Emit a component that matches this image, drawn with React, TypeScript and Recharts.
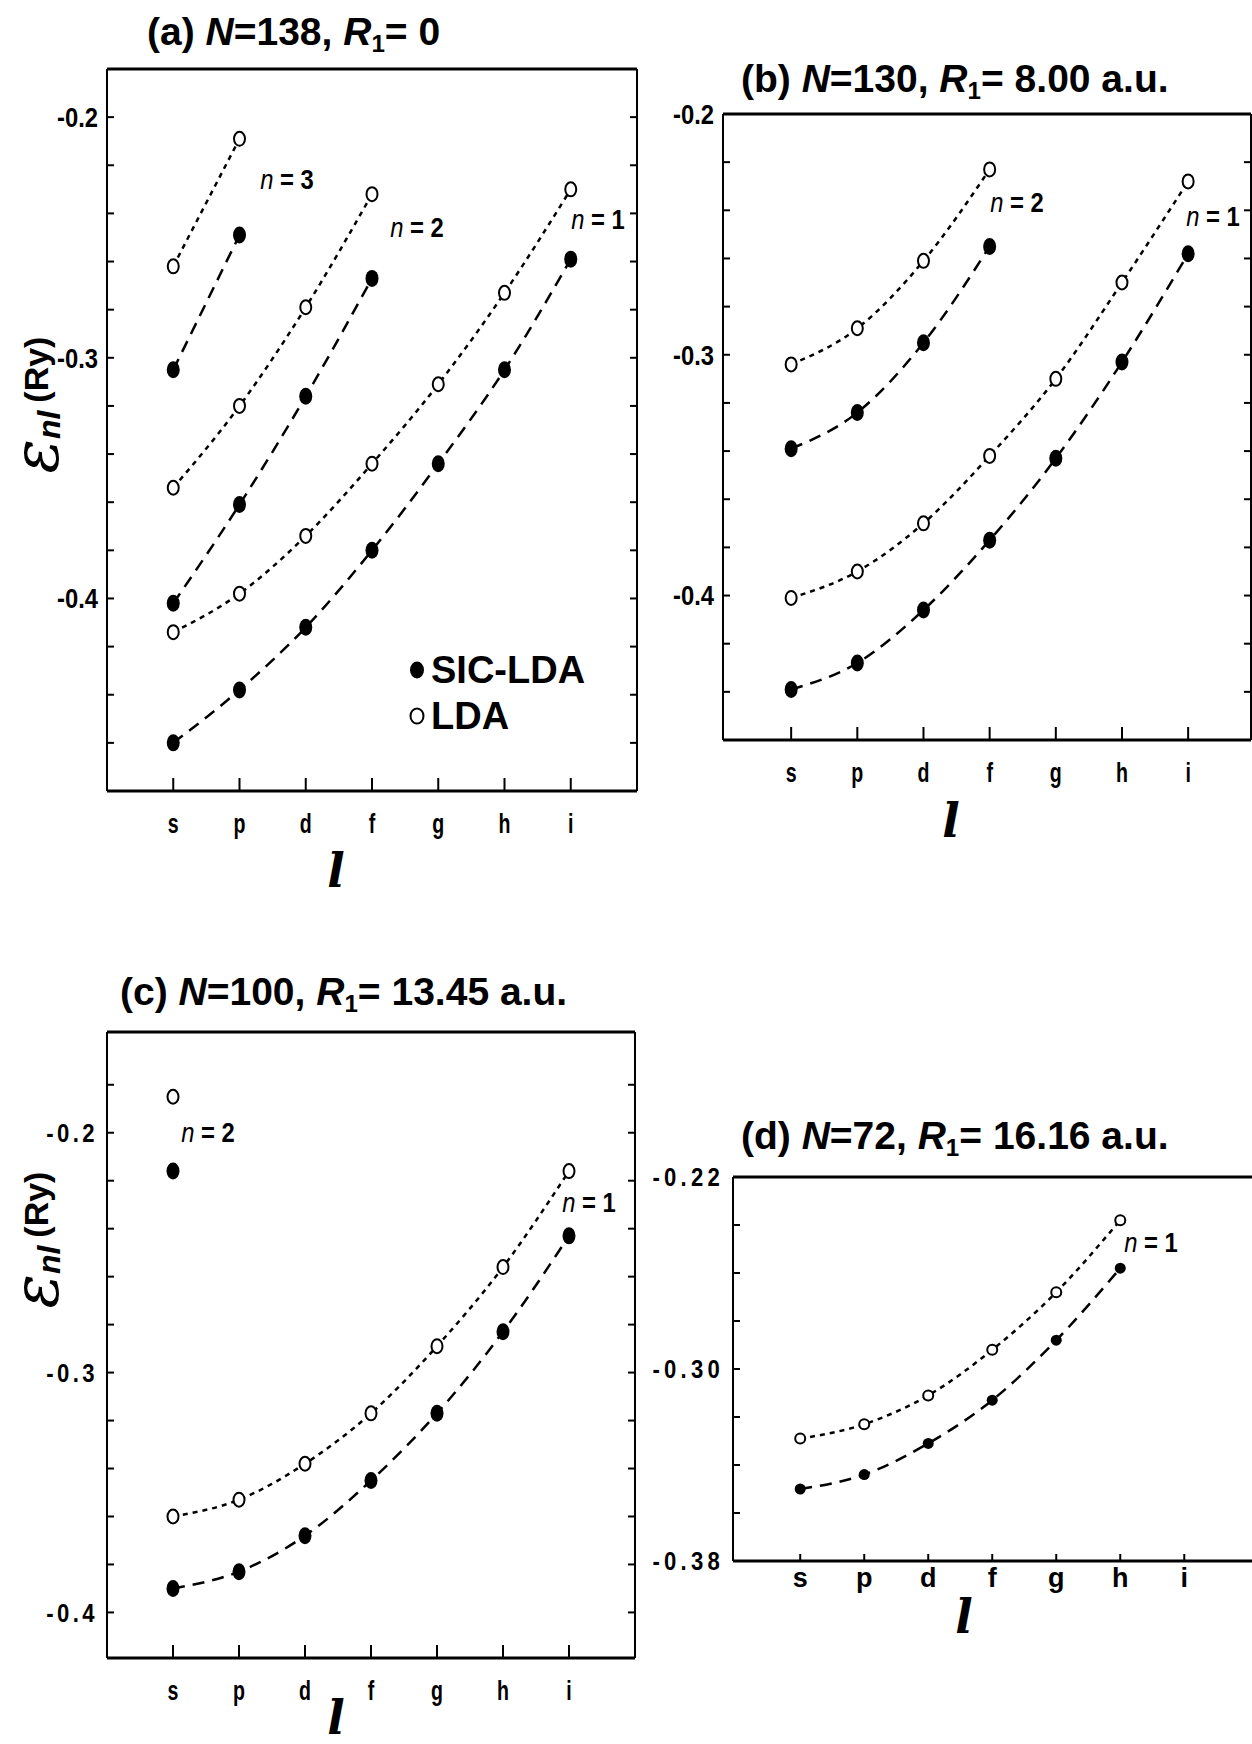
import React from "react";
import { LineChart, Line, XAxis, YAxis, ReferenceLine } from "recharts";

const orbitals = ["s", "p", "d", "f", "g", "h", "i"];
const orbitalTicks = [0, 1, 2, 3, 4, 5, 6];

// (a) N=138, R1=0
const aN3Lda = [-0.262, -0.209];
const aN3Sic = [-0.305, -0.249];
const aN2Lda = [-0.354, -0.32, -0.279, -0.232];
const aN2Sic = [-0.402, -0.361, -0.316, -0.267];
const aN1Lda = [-0.414, -0.398, -0.374, -0.344, -0.311, -0.273, -0.23];
const aN1Sic = [-0.46, -0.438, -0.412, -0.38, -0.344, -0.305, -0.259];
const aTicks = [-0.46, -0.44, -0.42, -0.4, -0.38, -0.36, -0.34, -0.32, -0.3, -0.28, -0.26, -0.24, -0.22, -0.2];
const aTickLabels = ["-0.4", "-0.3", "-0.2"];

// (b) N=130, R1=8.00
const bN2Lda = [-0.304, -0.289, -0.261, -0.223];
const bN2Sic = [-0.339, -0.324, -0.295, -0.255];
const bN1Lda = [-0.401, -0.39, -0.37, -0.342, -0.31, -0.27, -0.228];
const bN1Sic = [-0.439, -0.428, -0.406, -0.377, -0.343, -0.303, -0.258];
const bTicks = [-0.44, -0.42, -0.4, -0.38, -0.36, -0.34, -0.32, -0.3, -0.28, -0.26, -0.24, -0.22, -0.2];
const bTickLabels = ["-0.4", "-0.3", "-0.2"];

// (c) N=100, R1=13.45
const cN2Lda = [-0.185];
const cN2Sic = [-0.216];
const cN1Lda = [-0.36, -0.353, -0.338, -0.317, -0.289, -0.256, -0.216];
const cN1Sic = [-0.39, -0.383, -0.368, -0.345, -0.317, -0.283, -0.243];
const cTicks = [-0.4, -0.38, -0.36, -0.34, -0.32, -0.3, -0.28, -0.26, -0.24, -0.22, -0.2, -0.18];
const cTickLabels = ["-0.4", "-0.3", "-0.2"];

// (d) N=72, R1=16.16
const dN1Lda = [-0.329, -0.323, -0.311, -0.292, -0.268, -0.238];
const dN1Sic = [-0.35, -0.344, -0.331, -0.313, -0.288, -0.258];
const dTicks = [-0.38, -0.36, -0.34, -0.32, -0.3, -0.28, -0.26, -0.24, -0.22];
const dTickLabels = ["-0.38", "-0.30", "-0.22"];

const SANS = "'Liberation Sans', Arial, sans-serif";

const toPoints = (vals: number[]) => vals.map((y, i) => ({ x: i, y }));

type Series = { values: number[]; kind: "lda" | "sic" };
type TickStyle = { fontSize: number; scaleX: number; letterSpacing?: number };

function makeDot(kind: "lda" | "sic", small: boolean) {
  return (props: any) => {
    const { cx, cy, index } = props;
    if (cx == null || cy == null) return <g key={index} />;
    if (kind === "sic") {
      return <ellipse key={index} cx={cx} cy={cy} rx={small ? 5.5 : 6.5} ry={small ? 5.5 : 8.5} fill="#000" />;
    }
    return (
      <ellipse
        key={index}
        cx={cx}
        cy={cy}
        rx={small ? 5 : 5.5}
        ry={small ? 5 : 7}
        fill="#fff"
        stroke="#000"
        strokeWidth={2}
      />
    );
  };
}

function makeTick(fmt: (v: number) => string, st: TickStyle) {
  return (p: any) => {
    const label = fmt(p.payload.value);
    if (!label) return <g />;
    const dy = p.verticalAnchor === "start" ? "0.71em" : "0.355em";
    return (
      <g transform={`translate(${p.x},${p.y}) scale(${st.scaleX},1)`}>
        <text
          x={0}
          y={0}
          dy={dy}
          textAnchor={p.textAnchor}
          fill="#000"
          fontSize={st.fontSize}
          fontWeight={700}
          fontFamily={SANS}
          letterSpacing={st.letterSpacing ?? 0}
        >
          {label}
        </text>
      </g>
    );
  };
}

const PADL = 100;
const PADR = 20;
const PADT = 30;
const PADB = 60;

function Panel(props: {
  boxLeft: number;
  boxTop: number;
  boxW: number;
  boxH: number;
  xDomain: [number, number];
  yDomain: [number, number];
  yTicks: number[];
  yLabels: string[];
  series: Series[];
  yTickStyle: TickStyle;
  xTickStyle: TickStyle;
  xTickSize: number;
  xTickMargin: number;
  small?: boolean;
}) {
  const { boxLeft, boxTop, boxW, boxH, xDomain, yDomain, yTicks, yLabels, series } = props;
  const fmtY = (v: number) => yLabels.find((s) => Math.abs(parseFloat(s) - v) < 1e-6) ?? "";
  const fmtX = (v: number) => orbitals[v] ?? "";
  return (
    <div style={{ position: "absolute", left: boxLeft - PADL, top: boxTop - PADT }}>
      <LineChart
        width={boxW + PADL + PADR}
        height={boxH + PADT + PADB}
        margin={{ top: PADT, right: 0, bottom: 0, left: 0 }}
      >
        <XAxis
          type="number"
          dataKey="x"
          domain={xDomain}
          ticks={orbitalTicks}
          interval={0}
          allowDataOverflow
          height={PADB}
          tickSize={-props.xTickSize}
          tickMargin={props.xTickSize + props.xTickMargin}
          axisLine={{ stroke: "#000", strokeWidth: 3 }}
          tickLine={{ stroke: "#000", strokeWidth: 2 }}
          tick={makeTick(fmtX, props.xTickStyle)}
        />
        <YAxis
          yAxisId="l"
          type="number"
          domain={yDomain}
          ticks={yTicks}
          interval={0}
          allowDataOverflow
          width={PADL}
          tickSize={-7}
          tickMargin={16}
          axisLine={{ stroke: "#000", strokeWidth: 2 }}
          tickLine={{ stroke: "#000", strokeWidth: 2 }}
          tick={makeTick(fmtY, props.yTickStyle)}
        />
        <YAxis
          yAxisId="r"
          orientation="right"
          type="number"
          domain={yDomain}
          ticks={yTicks}
          interval={0}
          allowDataOverflow
          width={PADR}
          tickSize={-7}
          axisLine={{ stroke: "#000", strokeWidth: 2 }}
          tickLine={{ stroke: "#000", strokeWidth: 2 }}
          tick={() => <g />}
        />
        <ReferenceLine yAxisId="l" y={yDomain[1]} stroke="#000" strokeWidth={3} />
        {series.map((s, i) => (
          <Line
            key={i}
            yAxisId="l"
            data={toPoints(s.values)}
            dataKey="y"
            type="monotone"
            stroke="#000"
            strokeWidth={2.5}
            strokeDasharray={s.kind === "lda" ? "5 5" : "12 8"}
            dot={makeDot(s.kind, !!props.small)}
            activeDot={false}
            isAnimationActive={false}
          />
        ))}
      </LineChart>
    </div>
  );
}

function Title(props: { left: number; cy: number; tag: string; n: string; r: string }) {
  return (
    <div
      style={{
        position: "absolute",
        left: props.left,
        top: props.cy,
        transform: "translateY(-50%)",
        fontFamily: SANS,
        fontWeight: 700,
        fontSize: 39,
        whiteSpace: "nowrap",
        lineHeight: 1,
      }}
    >
      ({props.tag}) <i>N</i>={props.n}, <i>R</i>
      <span style={{ fontSize: "0.62em", position: "relative", top: "0.3em" }}>1</span>= {props.r}
    </div>
  );
}

function NLabel(props: { x: number; y: number; v: string }) {
  return (
    <div
      style={{
        position: "absolute",
        left: props.x,
        top: props.y,
        transform: "translate(-50%, -50%) scaleX(0.85)",
        fontFamily: SANS,
        fontWeight: 700,
        fontSize: 28,
        whiteSpace: "nowrap",
        lineHeight: 1,
      }}
    >
      <i style={{ fontWeight: 400 }}>n</i> = {props.v}
    </div>
  );
}

function YTitle(props: { x: number; y: number }) {
  return (
    <div
      style={{
        position: "absolute",
        left: props.x,
        top: props.y,
        transform: "translate(-50%, -50%) rotate(-90deg)",
        whiteSpace: "nowrap",
        display: "flex",
        alignItems: "center",
      }}
    >
      <span style={{ fontFamily: "'DejaVu Serif', serif", fontStyle: "italic", fontSize: 64, lineHeight: 1 }}>ε</span>
      <span
        style={{
          fontFamily: SANS,
          fontStyle: "italic",
          fontWeight: 700,
          fontSize: 32,
          lineHeight: 1,
          position: "relative",
          top: 13,
          marginRight: 8,
        }}
      >
        nl
      </span>
      <span style={{ fontFamily: SANS, fontWeight: 700, fontSize: 34, lineHeight: 1 }}>(Ry)</span>
    </div>
  );
}

function XTitle(props: { x: number; y: number }) {
  return (
    <div
      style={{
        position: "absolute",
        left: props.x,
        top: props.y,
        transform: "translate(-50%, -50%)",
        fontFamily: "'DejaVu Serif', serif",
        fontStyle: "italic",
        fontWeight: 700,
        fontSize: 46,
        lineHeight: 1,
      }}
    >
      l
    </div>
  );
}

function LegendItem(props: { x: number; y: number; filled: boolean; text: string }) {
  return (
    <div
      style={{
        position: "absolute",
        left: props.x - 10,
        top: props.y,
        transform: "translateY(-50%)",
        display: "flex",
        alignItems: "center",
        fontFamily: SANS,
        fontWeight: 700,
        fontSize: 38,
        lineHeight: 1,
        whiteSpace: "nowrap",
      }}
    >
      <svg width={20} height={20} style={{ marginRight: 4 }}>
        {props.filled ? (
          <ellipse cx={10} cy={10} rx={7} ry={8.5} fill="#000" />
        ) : (
          <ellipse cx={10} cy={10} rx={6.5} ry={7.5} fill="#fff" stroke="#000" strokeWidth={2} />
        )}
      </svg>
      {props.text}
    </div>
  );
}

const yTickAC: TickStyle = { fontSize: 28, scaleX: 0.85 };
const yTickC: TickStyle = { fontSize: 26, scaleX: 0.85, letterSpacing: 4 };
const xTickAC: TickStyle = { fontSize: 28, scaleX: 0.7 };
const yTickD: TickStyle = { fontSize: 26, scaleX: 0.85, letterSpacing: 5 };
const xTickD: TickStyle = { fontSize: 27, scaleX: 1 };

export default function App() {
  return (
    <div
      style={{
        position: "absolute",
        left: 0,
        top: 0,
        width: 1252,
        height: 1744,
        overflow: "hidden",
        background: "#fff",
      }}
    >
      {/* (a) */}
      <Title left={147} cy={31} tag="a" n="138" r="0" />
      <Panel
        boxLeft={107}
        boxTop={69}
        boxW={530}
        boxH={722}
        xDomain={[-1, 7]}
        yDomain={[-0.48, -0.18]}
        yTicks={aTicks}
        yLabels={aTickLabels}
        yTickStyle={yTickAC}
        xTickStyle={xTickAC}
        xTickSize={13}
        xTickMargin={22}
        series={[
          { values: aN3Lda, kind: "lda" },
          { values: aN3Sic, kind: "sic" },
          { values: aN2Lda, kind: "lda" },
          { values: aN2Sic, kind: "sic" },
          { values: aN1Lda, kind: "lda" },
          { values: aN1Sic, kind: "sic" },
        ]}
      />
      <NLabel x={287} y={180} v="3" />
      <NLabel x={417} y={228} v="2" />
      <NLabel x={598} y={220} v="1" />
      <LegendItem x={417} y={670} filled text="SIC-LDA" />
      <LegendItem x={417} y={716} filled={false} text="LDA" />
      <YTitle x={36} y={405} />
      <XTitle x={336} y={871} />

      {/* (b) */}
      <Title left={741} cy={78} tag="b" n="130" r="8.00 a.u." />
      <Panel
        boxLeft={723}
        boxTop={114}
        boxW={528}
        boxH={626}
        xDomain={[-1.03, 6.95]}
        yDomain={[-0.46, -0.2]}
        yTicks={bTicks}
        yLabels={bTickLabels}
        yTickStyle={yTickAC}
        xTickStyle={xTickAC}
        xTickSize={13}
        xTickMargin={22}
        series={[
          { values: bN2Lda, kind: "lda" },
          { values: bN2Sic, kind: "sic" },
          { values: bN1Lda, kind: "lda" },
          { values: bN1Sic, kind: "sic" },
        ]}
      />
      <NLabel x={1017} y={203} v="2" />
      <NLabel x={1213} y={217} v="1" />
      <XTitle x={951} y={821} />

      {/* (c) */}
      <Title left={120} cy={991} tag="c" n="100" r="13.45 a.u." />
      <Panel
        boxLeft={107}
        boxTop={1032}
        boxW={528}
        boxH={626}
        xDomain={[-1, 7]}
        yDomain={[-0.419, -0.158]}
        yTicks={cTicks}
        yLabels={cTickLabels}
        yTickStyle={yTickC}
        xTickStyle={xTickAC}
        xTickSize={13}
        xTickMargin={22}
        series={[
          { values: cN2Lda, kind: "lda" },
          { values: cN2Sic, kind: "sic" },
          { values: cN1Lda, kind: "lda" },
          { values: cN1Sic, kind: "sic" },
        ]}
      />
      <NLabel x={208} y={1133} v="2" />
      <NLabel x={589} y={1203} v="1" />
      <YTitle x={36} y={1240} />
      <XTitle x={336} y={1718} />

      {/* (d) */}
      <Title left={741} cy={1135} tag="d" n="72" r="16.16 a.u." />
      <Panel
        boxLeft={733}
        boxTop={1177}
        boxW={530}
        boxH={384}
        xDomain={[-1.05, 7.23]}
        yDomain={[-0.38, -0.22]}
        yTicks={dTicks}
        yLabels={dTickLabels}
        yTickStyle={yTickD}
        xTickStyle={xTickD}
        xTickSize={7}
        xTickMargin={7}
        small
        series={[
          { values: dN1Lda, kind: "lda" },
          { values: dN1Sic, kind: "sic" },
        ]}
      />
      <NLabel x={1151} y={1243} v="1" />
      <XTitle x={964} y={1617} />
    </div>
  );
}
